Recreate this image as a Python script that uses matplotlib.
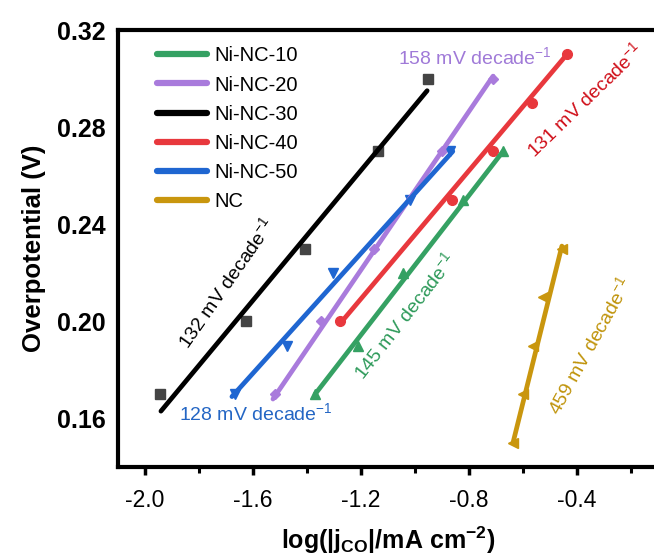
import matplotlib
matplotlib.use("Agg")
import matplotlib.pyplot as plt
from matplotlib.ticker import MultipleLocator

plt.rcParams['font.family'] = ['Liberation Sans', 'DejaVu Sans']
plt.rcParams['mathtext.fontset'] = 'custom'
plt.rcParams['mathtext.rm'] = 'Liberation Sans'
plt.rcParams['mathtext.bf'] = 'Liberation Sans:bold'

# ---- data ----
labels = ["Ni-NC-10", "Ni-NC-20", "Ni-NC-30", "Ni-NC-40", "Ni-NC-50", "NC"]

x10 = [-1.370, -1.211, -1.044, -0.822, -0.674]
y10 = [0.17, 0.19, 0.22, 0.25, 0.27]
fit10_x = [-1.370, -0.674]
fit10_y = [0.170, 0.270]

x20 = [-1.519, -1.348, -1.152, -0.899, -0.711]
y20 = [0.17, 0.20, 0.23, 0.27, 0.30]
fit20_x = [-1.526, -0.711]
fit20_y = [0.168, 0.301]

x30 = [-1.944, -1.626, -1.407, -1.137, -0.952]
y30 = [0.17, 0.20, 0.23, 0.27, 0.30]
fit30_x = [-1.941, -0.955]
fit30_y = [0.163, 0.295]

x40 = [-1.278, -0.863, -0.711, -0.567, -0.437]
y40 = [0.20, 0.25, 0.27, 0.29, 0.31]
fit40_x = [-1.278, -0.437]
fit40_y = [0.199, 0.310]

x50 = [-1.667, -1.474, -1.304, -1.019, -0.870]
y50 = [0.17, 0.19, 0.22, 0.25, 0.27]
fit50_x = [-1.678, -0.860]
fit50_y = [0.169, 0.270]

xnc = [-0.637, -0.600, -0.563, -0.526, -0.456]
ync = [0.15, 0.17, 0.19, 0.21, 0.23]
fitnc_x = [-0.637, -0.456]
fitnc_y = [0.150, 0.231]

slope_texts = ["145 mV decade$^{-1}$", "158 mV decade$^{-1}$", "132 mV decade$^{-1}$",
               "131 mV decade$^{-1}$", "128 mV decade$^{-1}$", "459 mV decade$^{-1}$"]

# ---- styles ----
colors = ["#35A163", "#A97BDC", "#000000", "#E8383D", "#1F66D1", "#C9960E"]
text_colors = ["#2E9A5A", "#A07AD8", "#000000", "#D0101A", "#2466C4", "#C0940C"]
markers = ["^", "D", "s", "o", "v", "<"]
text_pos = [(-1.037, 0.202, 52), (-0.778, 0.3085, 0), (-1.696, 0.2158, 55),
            (-0.370, 0.291, 44), (-1.589, 0.162, 0), (-0.352, 0.190, 61)]

fig = plt.figure(figsize=(6.54, 5.56), dpi=100)
ax = fig.add_axes([118/654, 89/556, 540/654, 437/556])

series = [(x10, y10, fit10_x, fit10_y), (x20, y20, fit20_x, fit20_y),
          (x30, y30, fit30_x, fit30_y), (x40, y40, fit40_x, fit40_y),
          (x50, y50, fit50_x, fit50_y), (xnc, ync, fitnc_x, fitnc_y)]

for i, (xs, ys, fx, fy) in enumerate(series):
    mcol = "#444444" if i == 2 else colors[i]
    ax.plot(xs, ys, linestyle="none", marker=markers[i], color=mcol,
            markersize=7 if markers[i] != "D" else 5.5, zorder=2)
    ax.plot(fx, fy, color=colors[i], lw=3.4, label=labels[i], zorder=3,
            solid_capstyle="round")

for i, (tx, ty, rot) in enumerate(text_pos):
    ax.text(tx, ty, slope_texts[i], color=text_colors[i], fontsize=14,
            rotation=rot, ha="center", va="center", rotation_mode="anchor")

ax.set_xlim(-2.1, -0.1)
ax.set_ylim(0.14, 0.32)
ax.xaxis.set_major_locator(MultipleLocator(0.4))
ax.xaxis.set_minor_locator(MultipleLocator(0.2))
ax.set_yticks([0.16, 0.20, 0.24, 0.28, 0.32])
ax.set_xticks([-2.0, -1.6, -1.2, -0.8, -0.4])
ax.set_xticklabels(["-2.0", "-1.6", "-1.2", "-0.8", "-0.4"], fontsize=16.5)
ax.set_yticklabels(["0.16", "0.20", "0.24", "0.28", "0.32"], fontsize=18, fontweight="bold")

ax.tick_params(axis="x", which="major", direction="out", length=6, width=2.5, pad=10)
ax.tick_params(axis="x", which="minor", direction="out", length=4, width=2.2)
ax.tick_params(axis="y", which="both", length=0, pad=9)

for s in ["left", "top", "bottom"]:
    ax.spines[s].set_linewidth(3)
ax.spines["right"].set_visible(False)

ax.set_ylabel("Overpotential (V)", fontsize=18.5, fontweight="bold", labelpad=8)
ax.set_xlabel(r"log(|j$_{\mathbf{CO}}$|/mA cm$^{\mathbf{-2}}$)", fontsize=18,
              fontweight="bold", labelpad=9)

leg = ax.legend(loc="upper left", frameon=False, fontsize=14.5, handlelength=2.5,
                handletextpad=0.35, labelspacing=0.5, borderaxespad=0.2,
                bbox_to_anchor=(0.05, 0.99))
for h in leg.get_lines():
    h.set_linewidth(4.5)

fig.savefig("out.png", dpi=100)
